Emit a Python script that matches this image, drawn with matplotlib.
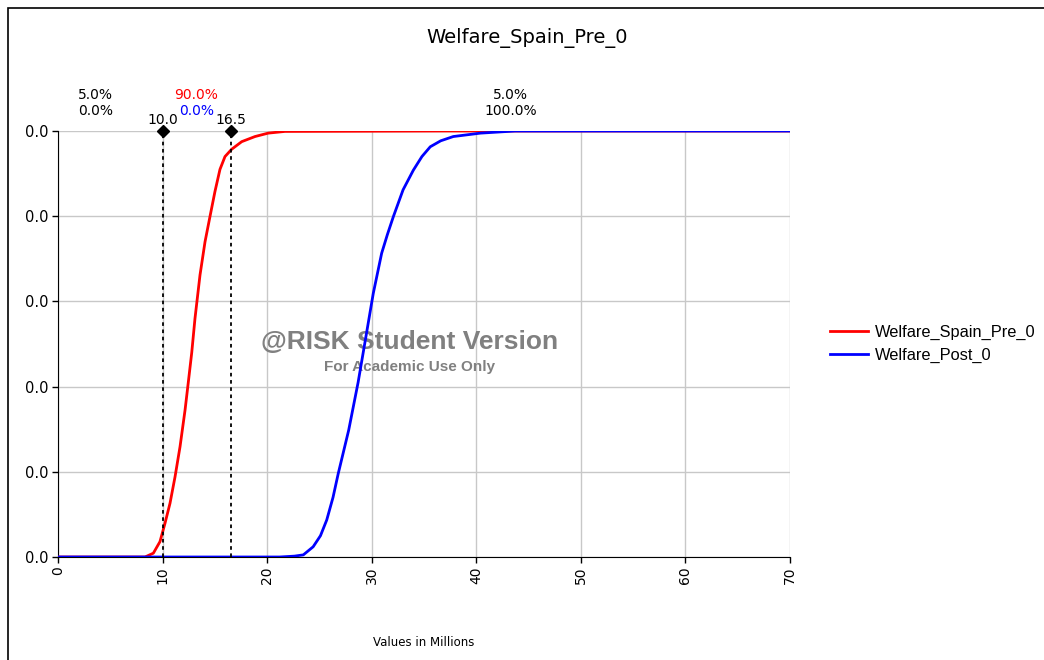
import matplotlib
matplotlib.use("Agg")
import matplotlib.pyplot as plt
from matplotlib.patches import Rectangle

# cumulative curves (values in millions, cumulative probability)
pre_x = [0, 8.32, 9.12, 9.75, 10.23, 10.71, 11.19, 11.67, 12.15, 12.46, 12.79, 13.1,
         13.58, 14.06, 14.54, 15.01, 15.49, 15.97, 16.6, 17.57, 18.84, 20.1, 21.7,
         37.3, 70]
pre_p = [0, 0, 0.009, 0.036, 0.079, 0.126, 0.188, 0.259, 0.345, 0.41, 0.48, 0.56,
         0.662, 0.74, 0.8, 0.858, 0.91, 0.94, 0.957, 0.975, 0.987, 0.995, 0.999,
         1.0, 1.0]
post_x = [0, 21.2, 22.6, 23.46, 24.4, 25.1, 25.7, 26.3, 26.8, 27.8, 28.7, 29.5, 30.15,
          30.95, 31.5, 32.07, 33.0, 33.98, 34.8, 35.6, 36.6, 37.8, 40.4, 43.7, 70]
post_p = [0, 0, 0.002, 0.005, 0.024, 0.05, 0.087, 0.14, 0.196, 0.298, 0.41, 0.525, 0.619,
          0.713, 0.757, 0.799, 0.862, 0.908, 0.94, 0.963, 0.977, 0.987, 0.995, 1.0, 1.0]

delims = [10.0, 16.5]
band_x = [3.6, 13.25, 43.25]
band_top = ["5.0%", "90.0%", "5.0%"]
band_bot = ["0.0%", "0.0%", "100.0%"]
xticks = [0, 10, 20, 30, 40, 50, 60, 70]
yticks = [0, 0.2, 0.4, 0.6, 0.8, 1.0]

fig = plt.figure(figsize=(10.44, 6.6), dpi=100)
fig.patches.append(Rectangle((8 / 1044, -0.01), 1.2, (660 - 8) / 660 + 0.01,
                             transform=fig.transFigure, fill=False,
                             edgecolor="black", linewidth=1.2))

ax = fig.add_axes([58 / 1044, (660 - 557) / 660, 732 / 1044, 426 / 660])
ax.set_xlim(0, 70)
ax.set_ylim(0, 1)
ax.set_xticks(xticks)
ax.set_xticklabels([str(t) for t in xticks], rotation=90, fontsize=10)
ax.set_yticks(yticks)
ax.set_yticklabels(["0.0" for t in yticks], fontsize=10.5)
ax.grid(True, color="#c8c8c8", linewidth=1)
ax.set_axisbelow(True)
for s in ["top", "right"]:
    ax.spines[s].set_visible(False)
ax.spines["left"].set_color("black")
ax.spines["bottom"].set_color("black")
ax.tick_params(length=4, width=1, pad=3)

# watermark behind the curves
ax.text(33.6, 0.505, "@RISK Student Version", ha="center", va="center",
        fontsize=19, color="#808080", family=["Liberation Sans Narrow", "Liberation Sans"],
        fontweight="bold", zorder=1)
ax.text(33.6, 0.445, "For Academic Use Only", ha="center", va="center",
        fontsize=11, color="#808080", family=["Liberation Sans Narrow", "Liberation Sans"],
        fontweight="bold", zorder=1)

ax.plot(pre_x, pre_p, color="red", linewidth=2, label="Welfare_Spain_Pre_0", zorder=3)
ax.plot(post_x, post_p, color="blue", linewidth=2, label="Welfare_Post_0", zorder=4)

for d in delims:
    ax.plot([d, d], [0, 1], color="black", linestyle=(0, (2, 2)), linewidth=1.3, zorder=5)
    ax.plot([d], [1], marker="D", color="black", markersize=6, clip_on=False, zorder=6)
    ax.text(d, 1.01, "%.1f" % d, ha="center", va="bottom", fontsize=10)

top_colors = ["black", "red", "black"]
bot_colors = ["black", "blue", "black"]
for i in range(3):
    ax.text(band_x[i], 1.085, band_top[i], ha="center", va="center", fontsize=10,
            color=top_colors[i])
    ax.text(band_x[i], 1.048, band_bot[i], ha="center", va="center", fontsize=10,
            color=bot_colors[i])

fig.text(527 / 1044, 1 - 38 / 660, "Welfare_Spain_Pre_0", ha="center", va="center",
         fontsize=14)
fig.text(424 / 1044, 1 - 643 / 660, "Values in Millions", ha="center", va="center",
         fontsize=8.5)

leg = ax.legend(loc="center left", bbox_to_anchor=(1.035, 0.5), frameon=False,
                prop={"family": ["Liberation Sans"], "size": 11.8}, handlelength=2.3,
                handletextpad=0.4, labelspacing=0.5)

fig.savefig("out.png", dpi=100)
